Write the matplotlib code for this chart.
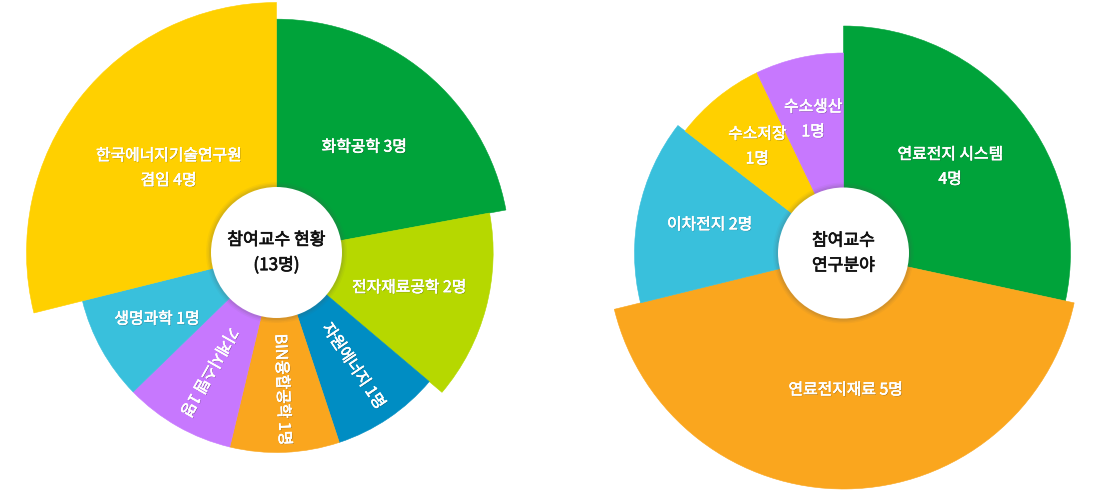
import numpy as np
import matplotlib
matplotlib.use("Agg")
import matplotlib.pyplot as plt
import matplotlib.patheffects as pe

plt.rcParams['font.family'] = ['Noto Sans CJK KR', 'DejaVu Sans']

# 왼쪽: 참여교수 현황 (13명)
left_labels = ["화학공학 3명", "전자재료공학 2명", "자원에너지 1명", "BIN융합공학 1명",
               "기계시스템 1명", "생명과학 1명", "한국에너지기술연구원\n겸임 4명"]
left_counts = [3, 2, 1, 1, 1, 1, 4]
left_shares = [79.5, 50.7, 31.5, 31.8, 32.3, 30.2, 104.0]   # 각도
left_colors = ['#00A33A', '#B6D800', '#008DC3', '#FAA61E', '#C778FE', '#39C0DC', '#FFD000']
left_radial = [False, False, True, True, True, False, False]
left_title = "참여교수 현황\n(13명)"

# 오른쪽: 참여교수 연구분야
right_labels = ["연료전지 시스템\n4명", "연료전지재료 5명", "이차전지 2명", "수소저장\n1명", "수소생산\n1명"]
right_counts = [4, 5, 2, 1, 1]
right_shares = [102.0, 153.7, 51.3, 26.7, 25.6]
right_colors = ['#00A33A', '#FAA61E', '#39C0DC', '#FFD000', '#C778FE']
right_radial = [False, False, False, False, False]
right_title = "참여교수\n연구분야"

W, H = 1100, 495
fig = plt.figure(figsize=(W / 100, H / 100), dpi=100)
fig.patch.set_facecolor('white')

BOX = 270      # 축 반경 (px)
HOLE = 65.5
LABEL_R = 137


def rose(cx, cy, labels, counts, shares, colors, radial, title, r_min, r_max):
    ax = fig.add_axes([(cx - BOX) / W, (H - cy - BOX) / H, 2 * BOX / W, 2 * BOX / H],
                      projection='polar')
    ax.set_theta_zero_location('N')
    ax.set_theta_direction(-1)
    ax.set_ylim(0, BOX)
    ax.set_axis_off()

    counts = np.array(counts, dtype=float)
    shares = np.array(shares, dtype=float)
    widths = np.deg2rad(shares / shares.sum() * 360)
    starts = np.concatenate([[0], np.cumsum(widths)[:-1]])
    radii = r_min + (counts - counts.min()) / (counts.max() - counts.min()) * (r_max - r_min)

    ax.bar(starts, radii, width=widths, bottom=0, align='edge',
           color=colors, edgecolor=colors, linewidth=0.4)

    # 가운데 원 + 그림자
    for k, a in [(5, 0.05), (3.5, 0.07), (2, 0.1)]:
        ax.bar(0, HOLE + k, width=2 * np.pi, bottom=0, color='#555555', alpha=a, linewidth=0)
    ax.bar(0, HOLE, width=2 * np.pi, bottom=0, color='white', linewidth=0)
    ax.text(0, 0, title, ha='center', va='center', ma='center', fontsize=12.3,
            color='#111111', linespacing=1.5,
            path_effects=[pe.withStroke(linewidth=0.5, foreground='#111111')])

    shadow = [pe.withSimplePatchShadow(offset=(0.6, -0.6), shadow_rgbFace='#333333', alpha=0.35),
              pe.withStroke(linewidth=0.35, foreground='white')]
    for lab, s, w, rad in zip(labels, starts, widths, radial):
        mid = s + w / 2
        rot = 90 - np.rad2deg(mid) if rad else 0
        ax.text(mid, LABEL_R, lab, ha='center', va='center', ma='center', fontsize=11.4,
                color='white', rotation=rot, rotation_mode='anchor', linespacing=1.6,
                path_effects=shadow)
    return ax


rose(276.5, 252.5, left_labels, left_counts, left_shares, left_colors, left_radial,
     left_title, 200, 250)
rose(843.5, 253, right_labels, right_counts, right_shares, right_colors, right_radial,
     right_title, 200, 236)

fig.savefig('out.png', dpi=100, facecolor='white')
